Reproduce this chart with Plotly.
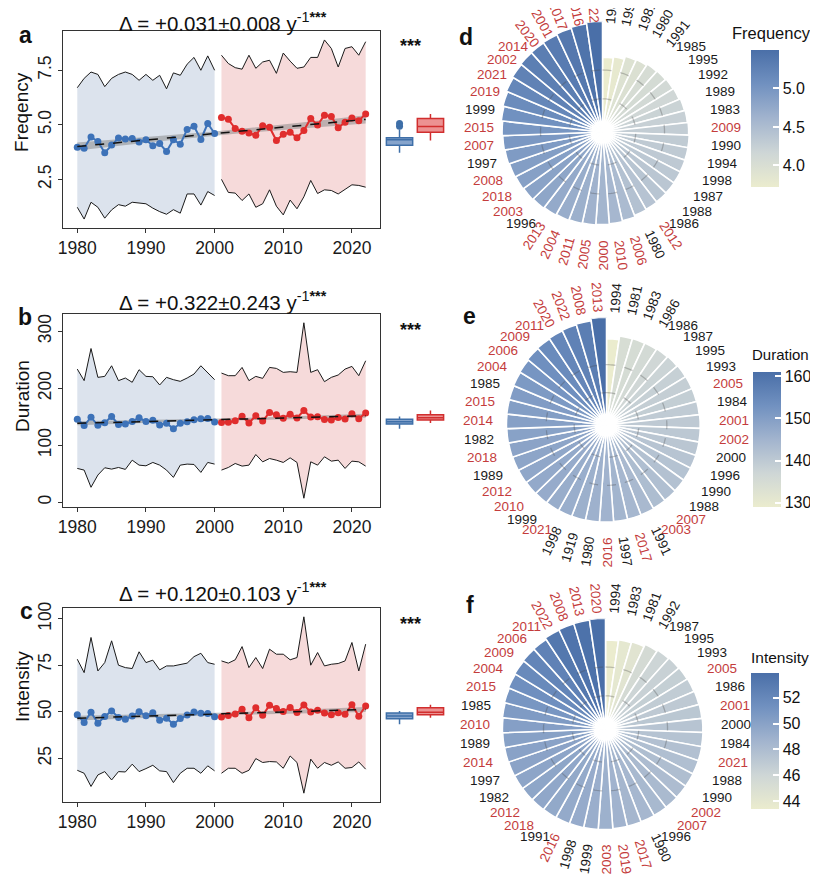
import math
import numpy as np
import plotly.graph_objects as go

W, H = 818, 874          # window / reference size
OFF = 8                  # page body margin of the written html
FW, FH = W - OFF, H - OFF
YEARS = list(range(1980, 2023))
SPLIT = 2000

FREQ_MEAN = [3.97, 3.93, 4.44, 4.24, 3.72, 4.07, 4.39, 4.35, 4.37, 4.21,
             4.31, 4.04, 4.14, 3.78, 4.32, 4.11, 4.79, 4.93, 4.33, 5.06,
             4.60, 5.34, 5.25, 4.83, 4.70, 4.63, 4.52, 4.96, 4.89, 4.28,
             4.57, 4.66, 4.41, 4.74, 5.29, 4.99, 5.44, 5.38, 4.86, 5.12,
             5.31, 5.19, 5.50]
FREQ_UPPER = [6.70, 7.13, 7.42, 7.31, 6.75, 7.13, 7.31, 7.42, 7.31, 7.04,
              7.31, 7.04, 7.27, 6.65, 7.38, 7.27, 7.78, 8.09, 7.50, 8.16,
              7.50, 8.19, 7.81, 7.62, 7.55, 8.19, 7.59, 7.88, 7.96, 7.36,
              8.29, 7.92, 7.59, 7.65, 8.09, 8.09, 8.89, 8.50, 7.65, 8.50,
              8.58, 8.19, 8.81]
FREQ_LOWER = [1.22, 0.68, 1.45, 1.22, 0.72, 1.10, 1.34, 1.27, 1.45, 1.41,
              1.38, 1.18, 1.02, 0.90, 1.11, 0.95, 1.83, 1.83, 1.32, 1.94,
              1.76, 2.50, 1.90, 1.87, 1.53, 1.83, 1.22, 1.38, 2.02, 1.27,
              0.87, 1.55, 1.15, 1.70, 2.45, 1.85, 2.02, 1.99, 1.83, 2.04,
              2.25, 2.22, 2.14]

DUR_MEAN = [145.6, 134.5, 149.2, 135.0, 139.5, 150.4, 136.5, 137.5, 141.9, 148.4,
            141.5, 143.8, 135.5, 138.8, 129.0, 138.5, 141.2, 144.8, 146.4, 147.0,
            140.7, 140.0, 140.3, 143.0, 151.0, 139.0, 152.0, 142.5, 157.5, 153.5,
            147.5, 154.5, 148.0, 161.0, 149.6, 150.0, 145.2, 144.2, 148.8, 146.0,
            155.5, 146.7, 156.5]
DUR_UPPER = [233.7, 213.4, 269.8, 219.2, 220.9, 239.5, 213.4, 218.0, 210.5, 232.6,
             220.9, 220.3, 205.8, 219.2, 215.1, 212.2, 218.0, 225.0, 239.5, 227.9,
             215.1, 226.7, 222.1, 222.1, 236.6, 213.4, 220.9, 217.4, 236.6, 234.9,
             227.9, 229.1, 227.9, 315.0, 227.9, 232.6, 211.6, 219.2, 223.3, 233.7,
             238.4, 222.1, 248.3]
DUR_LOWER = [59.3, 56.4, 26.2, 47.7, 60.5, 58.1, 61.0, 57.6, 73.8, 65.1,
             63.9, 69.8, 65.1, 56.4, 43.6, 65.1, 66.9, 66.3, 52.3, 69.8,
             66.9, 56.4, 61.0, 68.0, 63.4, 65.1, 83.7, 70.9, 76.7, 73.8,
             69.8, 77.9, 69.8, 7.0, 70.9, 65.1, 79.7, 72.1, 73.8, 59.3,
             72.1, 70.9, 63.4]

INT_MEAN = [48.4, 44.3, 49.8, 43.9, 47.5, 50.5, 47.0, 46.1, 47.8, 50.1,
            47.9, 49.5, 45.5, 46.6, 43.4, 46.4, 48.3, 49.9, 49.3, 49.1,
            47.4, 47.2, 48.0, 48.9, 51.4, 46.8, 52.2, 48.2, 53.5, 51.8,
            50.2, 52.4, 49.7, 53.7, 50.0, 50.9, 49.4, 48.5, 49.6, 48.7,
            53.9, 47.7, 53.2]
INT_UPPER = [78.3, 71.1, 90.0, 72.0, 76.5, 88.2, 75.1, 73.8, 73.3, 82.3,
             76.5, 77.8, 72.6, 74.7, 74.7, 75.3, 76.2, 79.7, 81.5, 76.5,
             75.6, 77.4, 76.2, 78.0, 85.1, 73.8, 79.2, 73.3, 83.7, 81.0,
             81.0, 78.0, 79.2, 101.1, 75.1, 81.9, 74.7, 75.6, 76.0, 77.4,
             87.3, 72.0, 86.4]
INT_LOWER = [18.6, 17.0, 9.9, 16.1, 17.9, 13.4, 17.9, 17.7, 21.9, 17.9,
             19.5, 21.3, 18.3, 17.9, 12.0, 17.0, 19.7, 19.7, 17.0, 21.0,
             18.3, 17.0, 19.7, 19.7, 17.0, 18.6, 24.9, 22.8, 23.3, 23.1,
             19.7, 26.3, 22.8, 6.3, 24.6, 19.7, 22.8, 21.3, 23.1, 19.7,
             20.1, 23.1, 19.2]

# angular tick labels of the circular charts, clockwise from 12 o'clock (as printed)
D_LABELS = ["1984", "1993", "1981", "1980", "1991", "1985", "1995", "1992", "1989", "1983",
            "2009", "1990", "1994", "1998", "1987", "1988", "1986", "2012", "1980", "2006",
            "2010", "2000", "2005", "2011", "2004", "2013", "1996", "2003", "2018", "2008",
            "1997", "2007", "2015", "1999", "2019", "2021", "2002", "2014", "2020", "2001",
            "2017", "2016", "2022"]
E_LABELS = ["1994", "1981", "1983", "1986", "1986", "1987", "1995", "1993", "2005", "1984",
            "2001", "2002", "2000", "1996", "1990", "1988", "2007", "2003", "1991", "2017",
            "1997", "2016", "1980", "1919", "1998", "2021", "1999", "2010", "2012", "1989",
            "2018", "1982", "2014", "2015", "1985", "2004", "2006", "2009", "2011", "2020",
            "2022", "2008", "2013"]
F_LABELS = ["1994", "1983", "1981", "1992", "1987", "1995", "1993", "2005", "1986", "2001",
            "2000", "1984", "2021", "1988", "1990", "2002", "2007", "1996", "1980", "2017",
            "2019", "2003", "1999", "1998", "2016", "1991", "2018", "2012", "1982", "1997",
            "2014", "1989", "2010", "1985", "2015", "2004", "2009", "2006", "2011", "2022",
            "2008", "2013", "2020"]
D_EXTRA_RED = ["2000"]

TITLES = ["Δ = +0.031±0.008 y", "Δ = +0.322±0.243 y", "Δ = +0.120±0.103 y"]
Y_NAMES = ["Freqency", "Duration", "Intensity"]
Y_TICKS = [[2.5, 5.0, 7.5], [0, 100, 200, 300], [25, 50, 75, 100]]
Y_TICKTEXT = [["2.5", "5.0", "7.5"], ["0", "100", "200", "300"], ["25", "50", "75", "100"]]
X_TICKS = [1980, 1990, 2000, 2010, 2020]
CB_NAMES = ["Frequency", "Duration", "Intensity"]
CB_TICKS = [[4.0, 4.5, 5.0], [130, 140, 150, 160], [44, 46, 48, 50, 52]]
CB_TICKTEXT = [["4.0", "4.5", "5.0"], ["130", "140", "150", "160"], ["44", "46", "48", "50", "52"]]

FONT = "Liberation Sans, Arial, sans-serif"
BLUE = "#3D72B8"
RED = "#E02D2D"
BLUE_BAND = "#DCE3ED"
RED_BAND = "#F6DADA"
LBL_RED = "#C43C3C"
CSCALE = [[0, "#EBECCE"], [0.25, "#CED6D6"], [0.5, "#A2B4CE"], [0.75, "#7191C0"], [1, "#4A6FA8"]]


def px(x):
    return (x - OFF) / FW


def py(y):
    return 1 - (y - OFF) / FH


# layout geometry (reference pixels)
PLOT_L, PLOT_R = 63, 381
ROWS = [dict(top=31, bottom=228, title_y=22, star_y=46, letter=(26, 35), ytitle_y=112),
        dict(top=314, bottom=507, title_y=301, star_y=330, letter=(25, 317), ytitle_y=396),
        dict(top=608, bottom=802, title_y=592, star_y=624, letter=(27, 611), ytitle_y=686)]
POLARS = [dict(cx=604, cy=132, rad=111, lr=109, thresh=40, cbx=753, cbt=50, cbb=187,
               cbtitle=(733, 33), letter=(467, 37)),
          dict(cx=608, cy=425, rad=108, lr=113, thresh=30, cbx=755, cbt=372, cbb=507,
               cbtitle=(753, 355), letter=(471, 316)),
          dict(cx=607, cy=729, rad=111, lr=116, thresh=30, cbx=753, cbt=673, cbb=809,
               cbtitle=(752, 657), letter=(471, 605))]

fig = go.Figure()
annotations = []
layout = {}


def note(x, y, text, size, color="#111", angle=0, xanchor="center", yanchor="middle"):
    annotations.append(dict(x=px(x), y=py(y), xref="paper", yref="paper", showarrow=False,
                            text=text, textangle=angle, xanchor=xanchor, yanchor=yanchor,
                            borderpad=0, font=dict(size=size, color=color)))


SERIES = [(FREQ_MEAN, FREQ_UPPER, FREQ_LOWER), (DUR_MEAN, DUR_UPPER, DUR_LOWER),
          (INT_MEAN, INT_UPPER, INT_LOWER)]
yrs = np.array(YEARS)
early = yrs <= SPLIT
late = yrs > SPLIT

for i, (mean, upper, lower) in enumerate(SERIES):
    xa = "x" if i == 0 else f"x{i + 1}"
    ya = "y" if i == 0 else f"y{i + 1}"
    xb = f"x{i + 4}"
    mean = np.array(mean)
    upper = np.array(upper)
    lower = np.array(lower)
    row = ROWS[i]

    for mask, band in ((early, BLUE_BAND), (late, RED_BAND)):
        xs = yrs[mask]
        fig.add_trace(go.Scatter(x=list(xs) + list(xs[::-1]),
                                 y=list(upper[mask]) + list(lower[mask][::-1]),
                                 fill="toself", fillcolor=band, line=dict(width=0),
                                 mode="lines", hoverinfo="skip", showlegend=False,
                                 xaxis=xa, yaxis=ya))
        for bound in (upper, lower):
            fig.add_trace(go.Scatter(x=xs, y=bound[mask], mode="lines",
                                     line=dict(color="#1a1a1a", width=1),
                                     showlegend=False, xaxis=xa, yaxis=ya))

    # linear trend with 95% CI
    xf = yrs.astype(float)
    b1, b0 = np.polyfit(xf, mean, 1)
    yhat = b0 + b1 * xf
    n = len(xf)
    s = math.sqrt(np.sum((mean - yhat) ** 2) / (n - 2))
    sxx = np.sum((xf - xf.mean()) ** 2)
    se = s * np.sqrt(1.0 / n + (xf - xf.mean()) ** 2 / sxx)
    tval = 2.02
    fig.add_trace(go.Scatter(x=list(xf) + list(xf[::-1]),
                             y=list(yhat + tval * se) + list((yhat - tval * se)[::-1]),
                             fill="toself", fillcolor="rgba(120,120,120,0.45)",
                             line=dict(width=0), mode="lines", hoverinfo="skip",
                             showlegend=False, xaxis=xa, yaxis=ya))

    for mask, col in ((early, BLUE), (late, RED)):
        fig.add_trace(go.Scatter(x=yrs[mask], y=mean[mask], mode="lines+markers",
                                 line=dict(color=col, width=2),
                                 marker=dict(color=col, size=7),
                                 showlegend=False, xaxis=xa, yaxis=ya))

    fig.add_trace(go.Scatter(x=xf, y=yhat, mode="lines",
                             line=dict(color="#111111", width=1.5, dash="dash"),
                             showlegend=False, xaxis=xa, yaxis=ya))

    # box plots of the two periods
    for pos, mask, lc, fc in ((0, early, "#3E6FA8", "#86A4CC"), (1, late, "#D12E2E", "#EC9292")):
        fig.add_trace(go.Box(x=[pos] * int(mask.sum()), y=mean[mask], width=0.85,
                             line=dict(color=lc, width=1.5), fillcolor=fc,
                             marker=dict(color=lc, size=7), boxpoints="outliers",
                             whiskerwidth=0, showlegend=False, xaxis=xb, yaxis=ya))

    ymin = lower.min()
    ymax = upper.max()
    span = ymax - ymin
    dom_y = [py(row["bottom"]), py(row["top"])]
    layout["xaxis" if i == 0 else f"xaxis{i + 1}"] = dict(
        domain=[px(PLOT_L), px(PLOT_R)], anchor=ya, range=[1980 - 2.1, 2022 + 2.1],
        tickvals=X_TICKS, ticks="outside", ticklen=4, tickcolor="#333",
        showline=True, mirror=True, linecolor="#333", linewidth=1,
        showgrid=False, zeroline=False, tickfont=dict(size=17.5, color="#1a1a1a"))
    layout["yaxis" if i == 0 else f"yaxis{i + 1}"] = dict(
        domain=dom_y, anchor=xa, range=[ymin - 0.05 * span, ymax + 0.05 * span],
        tickvals=Y_TICKS[i], ticktext=Y_TICKTEXT[i], tickangle=-90,
        ticks="outside", ticklen=4, tickcolor="#333",
        showline=True, mirror=True, linecolor="#333", linewidth=1,
        showgrid=False, zeroline=False, tickfont=dict(size=17.5, color="#1a1a1a"))
    layout[f"xaxis{i + 4}"] = dict(domain=[px(385), px(447)], anchor=ya, range=[-0.5, 1.5],
                                   visible=False, showgrid=False, zeroline=False)

    note((PLOT_L + PLOT_R) / 2 + 2, row["title_y"],
         TITLES[i] + "<sup>-1<b>***</b></sup>", 20.5)
    note(411, row["star_y"], "<b>***</b>", 18)
    note(row["letter"][0], row["letter"][1], "<b>" + "abc"[i] + "</b>", 23)
    note(22, row["ytitle_y"], Y_NAMES[i], 19, angle=-90)

# circular bar charts
LABELS = [D_LABELS, E_LABELS, F_LABELS]
EXTRA_RED = [D_EXTRA_RED, [], []]
RING_FRACS = [0.3, 0.56]
LBL_FS = 13.5
CB_TITLE_FS = [16.5, 15, 15.5]
for i, (mean, _, _) in enumerate(SERIES):
    g = POLARS[i]
    vals = np.array(mean)
    order = np.argsort(vals, kind="stable")
    vs = vals[order]
    nb = len(vs)
    step = 360.0 / nb
    thetas = [(k + 0.5) * step for k in range(nb)]
    sub = "polar" if i == 0 else f"polar{i + 1}"
    vmin, vmax = float(vs.min()), float(vs.max())
    fig.add_trace(go.Barpolar(
        r=vs, theta=thetas, width=[step] * nb, subplot=sub, showlegend=False,
        marker=dict(color=vs, colorscale=CSCALE, cmin=vmin, cmax=vmax,
                    line=dict(color="white", width=1.6),
                    colorbar=dict(x=px(g["cbx"]), xanchor="left", xpad=0, ypad=0,
                                  y=py((g["cbt"] + g["cbb"]) / 2), yanchor="middle",
                                  len=g["cbb"] - g["cbt"], lenmode="pixels",
                                  thickness=28, thicknessmode="pixels",
                                  tickvals=CB_TICKS[i], ticktext=CB_TICKTEXT[i],
                                  ticks="inside", ticklen=6, tickcolor="white", tickwidth=1.5,
                                  outlinewidth=0, tickfont=dict(size=16, color="#111")))))
    ring_theta = list(np.linspace(0, 360, 181))
    for f in RING_FRACS:
        fig.add_trace(go.Scatterpolar(r=[vmax * f] * len(ring_theta), theta=ring_theta,
                                      mode="lines", subplot=sub, showlegend=False,
                                      hoverinfo="skip",
                                      line=dict(color="rgba(70,70,70,0.3)", width=1.3,
                                                dash="dash")))
    layout[sub] = dict(
        domain=dict(x=[px(g["cx"] - g["rad"]), px(g["cx"] + g["rad"])],
                    y=[py(g["cy"] + g["rad"]), py(g["cy"] - g["rad"])]),
        bgcolor="rgba(0,0,0,0)", hole=0,
        angularaxis=dict(rotation=90, direction="clockwise", showline=False,
                         showgrid=False, showticklabels=False, ticks=""),
        radialaxis=dict(visible=False, range=[0, vmax]))

    for k, lbl in enumerate(LABELS[i]):
        th = thetas[k]
        rad_th = math.radians(th)
        ux, uy = math.sin(rad_th), -math.cos(rad_th)
        t = th % 360
        dist = min(t, abs(180 - t), 360 - t)
        if dist >= g["thresh"]:
            ang = 0.0
        elif t < 180:
            ang = math.degrees(math.atan2(uy, ux))       # reads outward
        else:
            ang = math.degrees(math.atan2(-uy, -ux))     # reads inward
        wt = 0.556 * LBL_FS * len(lbl)
        ht = 0.75 * LBL_FS
        a = math.radians(ang)
        dx, dy = math.cos(a), math.sin(a)
        nx, ny = -math.sin(a), math.cos(a)
        half = (wt / 2) * abs(ux * dx + uy * dy) + (ht / 2) * abs(ux * nx + uy * ny)
        cxl = g["cx"] + (g["lr"] + half) * ux
        cyl = g["cy"] + (g["lr"] + half) * uy
        is_red = int(lbl) > SPLIT or lbl in EXTRA_RED[i]
        note(cxl, cyl, lbl, LBL_FS, color=LBL_RED if is_red else "#1a1a1a", angle=ang)
    note(g["cbtitle"][0], g["cbtitle"][1], CB_NAMES[i], CB_TITLE_FS[i], xanchor="left")
    note(g["letter"][0], g["letter"][1], "<b>" + "def"[i] + "</b>", 23)

fig.update_layout(template="none", width=FW, height=FH,
                  margin=dict(l=0, r=0, t=0, b=0), autosize=False,
                  paper_bgcolor="white", plot_bgcolor="white",
                  font=dict(family=FONT, color="#111"), showlegend=False,
                  annotations=annotations, **layout)
fig.write_html("out.html")
